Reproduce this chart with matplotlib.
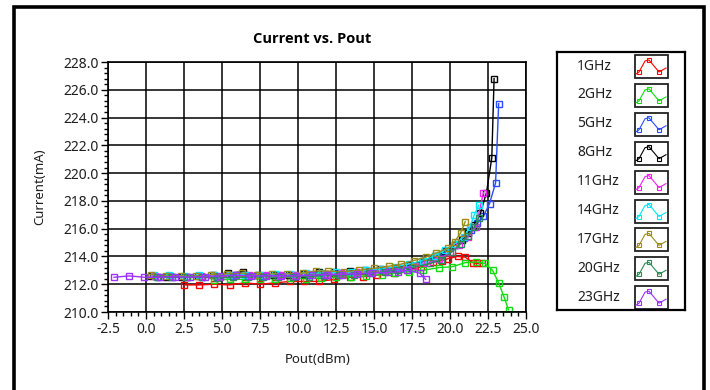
import matplotlib
matplotlib.use("Agg")
import matplotlib.pyplot as plt
from matplotlib.patches import Rectangle
from matplotlib.ticker import MultipleLocator, FormatStrFormatter

plt.rcParams['font.family'] = ['Noto Sans', 'DejaVu Sans']

# data (Pout dBm, current mA)
labels = ['1GHz', '2GHz', '5GHz', '8GHz', '11GHz', '14GHz', '17GHz', '20GHz', '23GHz']
colors = ['#ff0000', '#11dd11', '#2a4cff', '#000000', '#f020f0',
          '#00e8ff', '#9a8c1c', '#2e8b57', '#9933ff']

x_1g = [2.5, 3.5, 4.5, 5.5, 6.5, 7.5, 8.5, 9.5, 10.4, 11.4, 12.4, 13.4, 14.3, 15.2,
        16.3, 17.2, 18.1, 18.9, 19.5, 19.9, 20.5, 21.0, 21.5, 21.8, 22.1]
y_1g = [211.95, 211.95, 212.0, 211.95, 212.1, 212.0, 212.1, 212.2, 212.2, 212.2,
        212.35, 212.5, 212.55, 212.65, 212.8, 213.0, 213.25, 213.6, 213.7, 213.85,
        214.0, 213.95, 213.55, 213.5, 213.5]

x_2g = [4.5, 5.5, 6.5, 7.5, 8.5, 9.5, 10.5, 11.5, 12.5, 13.5, 14.5, 15.5, 16.4, 17.3,
        18.2, 19.3, 20.1, 21.0, 21.7, 22.3, 22.8, 23.2, 23.55, 23.85]
y_2g = [212.3, 212.35, 212.35, 212.4, 212.4, 212.45, 212.4, 212.45, 212.5, 212.55,
        212.6, 212.7, 212.8, 212.9, 213.0, 213.2, 213.25, 213.55, 213.6, 213.5,
        213.0, 212.1, 211.1, 210.15]

x_5g = [0.8, 1.7, 2.7, 3.7, 4.7, 5.7, 6.7, 7.7, 8.7, 9.7, 10.7, 11.7, 12.7, 13.7, 14.7,
        15.6, 16.5, 17.4, 18.2, 19.0, 19.7, 20.3, 20.9, 21.4, 21.8, 22.2, 22.6, 23.0, 23.2]
y_5g = [212.5, 212.5, 212.55, 212.5, 212.55, 212.6, 212.6, 212.6, 212.65, 212.65,
        212.7, 212.7, 212.8, 212.85, 212.95, 213.05, 213.2, 213.4, 213.6, 213.9,
        214.3, 214.8, 215.3, 215.9, 216.4, 216.9, 217.8, 219.3, 225.0]

x_8g = [0.3, 1.3, 2.4, 3.4, 4.4, 5.4, 6.4, 7.4, 8.4, 9.4, 10.4, 11.4, 12.4, 13.4, 14.4,
        15.4, 16.4, 17.3, 18.2, 19.0, 19.7, 20.3, 20.8, 21.2, 21.6, 22.0, 22.4, 22.75, 22.9]
y_8g = [212.6, 212.55, 212.5, 212.6, 212.7, 212.8, 212.9, 212.7, 212.7, 212.7,
        212.75, 212.9, 212.85, 212.95, 213.0, 213.1, 213.2, 213.4, 213.7, 214.0,
        214.4, 214.8, 215.2, 215.7, 216.3, 217.1, 218.6, 221.1, 226.8]

x_11g = [0.6, 1.6, 2.6, 3.6, 4.9, 5.8, 6.8, 7.8, 8.8, 9.8, 10.8, 11.8, 12.8, 13.8, 14.8,
         15.8, 16.7, 17.6, 18.5, 19.3, 20.0, 20.6, 21.2, 21.7, 22.2]
y_11g = [212.6, 212.6, 212.55, 212.6, 212.55, 212.65, 212.7, 212.65, 212.7, 212.7,
         212.75, 212.75, 212.8, 212.85, 212.9, 213.0, 213.15, 213.3, 213.5, 213.8,
         214.3, 214.8, 215.4, 216.1, 218.6]

x_14g = [0.5, 1.5, 2.5, 3.5, 4.5, 5.5, 6.5, 7.5, 8.5, 9.5, 10.5, 11.5, 12.5, 13.5, 14.5,
         15.5, 16.4, 17.3, 18.2, 19.0, 19.7, 20.3, 20.9, 21.3, 21.6, 21.9]
y_14g = [212.65, 212.65, 212.6, 212.65, 212.7, 212.7, 212.7, 212.7, 212.75, 212.75,
         212.8, 212.8, 212.85, 212.9, 213.0, 213.1, 213.25, 213.45, 213.7, 214.05,
         214.45, 214.9, 215.4, 216.1, 217.0, 217.7]

x_17g = [0.3, 1.3, 2.3, 3.3, 4.3, 5.3, 6.3, 7.3, 8.3, 9.3, 10.3, 11.2, 12.0, 13.0, 14.0,
         15.0, 16.0, 16.8, 17.6, 18.4, 19.1, 19.9, 20.3, 20.7, 21.0]
y_17g = [212.7, 212.6, 212.6, 212.6, 212.7, 212.75, 212.8, 212.7, 212.75, 212.75,
         212.8, 212.95, 212.95, 212.9, 213.0, 213.15, 213.3, 213.45, 213.7, 213.95,
         214.25, 214.6, 215.05, 215.7, 216.5]

x_20g = [0.7, 1.7, 2.7, 3.7, 4.7, 5.7, 6.7, 7.7, 8.7, 9.7, 10.7, 11.7, 12.7, 13.7, 14.7,
         15.7, 16.6, 17.5, 18.7, 19.4, 20.1, 20.7, 21.2, 21.6, 21.9]
y_20g = [212.5, 212.5, 212.5, 212.5, 212.45, 212.5, 212.5, 212.55, 212.5, 212.55,
         212.55, 212.6, 212.65, 212.7, 212.8, 212.9, 213.05, 213.2, 213.5, 213.75,
         214.3, 214.9, 215.5, 216.1, 216.8]

x_23g = [-2.1, -1.1, -0.1, 0.9, 1.9, 2.9, 3.9, 4.9, 5.9, 6.9, 7.9, 8.9, 9.9, 10.9, 11.9,
         12.9, 13.9, 14.9, 15.9, 16.6, 17.2, 18.0, 18.4]
y_23g = [212.5, 212.6, 212.5, 212.5, 212.55, 212.5, 212.55, 212.6, 212.65, 212.6,
         212.6, 212.6, 212.6, 212.65, 212.7, 212.7, 212.75, 212.8, 212.85, 212.9,
         213.0, 212.8, 212.35]

xs = [x_1g, x_2g, x_5g, x_8g, x_11g, x_14g, x_17g, x_20g, x_23g]
ys = [y_1g, y_2g, y_5g, y_8g, y_11g, y_14g, y_17g, y_20g, y_23g]

W, H = 710, 390
fig = plt.figure(figsize=(W / 100, H / 100), dpi=100)


def px(x0, y0, x1, y1):
    return [x0 / W, 1 - y1 / H, (x1 - x0) / W, (y1 - y0) / H]


ax = fig.add_axes(px(108, 62, 526, 312))
for x, y, c in zip(xs, ys, colors):
    ax.plot(x, y, color=c, lw=1.0, marker='s', ms=4.5, mfc='none', mec=c, mew=1.0)

ax.set_xlim(-2.5, 25)
ax.set_ylim(210, 228)
ax.xaxis.set_major_locator(MultipleLocator(2.5))
ax.xaxis.set_minor_locator(MultipleLocator(0.5))
ax.yaxis.set_major_locator(MultipleLocator(2))
ax.yaxis.set_minor_locator(MultipleLocator(0.4))
ax.xaxis.set_major_formatter(FormatStrFormatter('%.1f'))
ax.yaxis.set_major_formatter(FormatStrFormatter('%.1f'))
ax.grid(True, which='major', color='black', lw=1.1)
ax.tick_params(which='major', length=5, width=1, labelsize=10, labelcolor='#1e1e1e', pad=2)
ax.tick_params(which='minor', length=3, width=1)
for s in ax.spines.values():
    s.set_linewidth(1.2)

ax.set_ylabel('Current(mA)', fontsize=9.5, color='#1e1e1e')
ax.yaxis.set_label_coords((46 - 108) / 418, 0.5)
ax.set_xlabel('Pout(dBm)', fontsize=9.5, color='#1e1e1e')
ax.xaxis.set_label_coords((318 - 108) / 418, -(353 - 312) / 250)

fig.text(312 / W, 1 - 39 / H, 'Current vs. Pout', ha='center', va='center',
         fontsize=10.5, fontweight='bold', color='black', family=['Open Sans', 'DejaVu Sans'])

# legend panel
lax = fig.add_axes(px(557, 52, 685, 310))
lax.set_xlim(557, 685)
lax.set_ylim(310, 52)
lax.set_xticks([])
lax.set_yticks([])
for s in lax.spines.values():
    s.set_linewidth(1.6)
for i, (lab, c) in enumerate(zip(labels, colors)):
    yc = 66 + i * 28.9
    lax.text(577, yc, lab, ha='left', va='center', fontsize=10, color='#1e1e1e')
    lax.add_patch(Rectangle((635, yc - 11), 33, 23, fill=False, ec='#222222', lw=1.3))
    lax.plot([636, 639, 645, 649, 659, 666], [yc + 8, yc + 6, yc - 5, yc - 6, yc + 6, yc + 2],
             color=c, lw=0.8)
    lax.plot([639, 649, 659], [yc + 6, yc - 6, yc + 6], ls='none', marker='s', ms=3,
             mfc='none', mec=c, mew=0.8)

# outer frame
fig.patches.append(Rectangle((14 / W, -0.05), (704 - 14) / W, 1.05 - 7 / H,
                             transform=fig.transFigure, fill=False, ec='black', lw=2.6))

fig.savefig('out.png', dpi=100)
